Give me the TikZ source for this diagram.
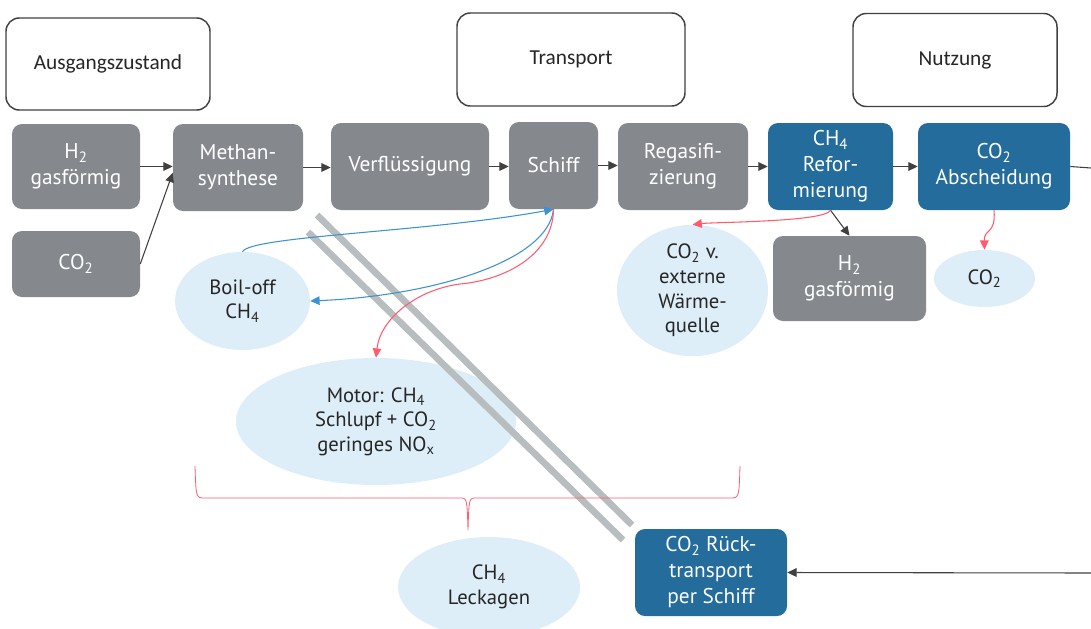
\documentclass[tikz,border=0pt]{standalone}
\usepackage{fontspec}
\setmainfont{PT Sans}
\newfontfamily\headfont{Carlito}
\usetikzlibrary{arrows.meta,shapes.geometric}
\definecolor{boxgray}{RGB}{133,137,142}
\definecolor{boxblue}{RGB}{35,108,155}
\definecolor{bubblefill}{RGB}{222,238,248}
\definecolor{linered}{RGB}{255,92,110}
\definecolor{lineblue}{RGB}{58,147,208}
\definecolor{linedark}{RGB}{64,64,64}
\definecolor{barsgray}{RGB}{184,189,191}
\tikzset{
  stage/.style={draw=linedark, line width=1.1pt, rounded corners=10pt, align=center,
    text=black!85, font=\headfont\fontsize{16}{19}\selectfont},
  grbox/.style={fill=boxgray, rounded corners=7.5pt, align=center, text=white, inner sep=0pt,
    font=\fontsize{16}{19.5}\selectfont},
  blbox/.style={grbox, fill=boxblue},
  bubble/.style={ellipse, fill=bubblefill, align=center, inner sep=0pt, text=black!85,
    font=\fontsize{15.5}{18.5}\selectfont},
  flow/.style={draw=linedark, line width=0.8pt, -{Triangle[width=6.5pt,length=7pt]}},
  redflow/.style={draw=linered, line width=0.8pt, -{Triangle[width=6.5pt,length=7pt]}},
  blueflow/.style={draw=lineblue, line width=0.8pt, -{Triangle[width=6.5pt,length=7pt]}},
  bars/.style={draw=barsgray, line width=5pt},
}
\begin{document}
\begin{tikzpicture}[x=0.75pt, y=-0.75pt]
  \useasboundingbox (0,0) rectangle (1091,628);
  \node[stage, minimum width=153pt, minimum height=69pt] (start) at (108,64) {Ausgangszustand};
  \node[stage, minimum width=171pt, minimum height=69.75pt] (trans) at (571,59.5) {Transport};
  \node[stage, minimum width=153pt, minimum height=69.75pt] (use) at (955,60) {Nutzung};
  \node[grbox, minimum width=96pt, minimum height=63.75pt] (h2a) at (76,166.5) {H\textsubscript{2}\\gasförmig};
  \node[grbox, minimum width=96pt, minimum height=49.5pt] (co2a) at (76,264) {CO\textsubscript{2}};
  \node[grbox, minimum width=97.5pt, minimum height=65.25pt] (meth) at (238,167.5) {Methan-\\synthese};
  \node[grbox, minimum width=118.5pt, minimum height=65.25pt] (verf) at (410,166.5) {Verflüssigung};
  \node[grbox, minimum width=66.75pt, minimum height=65.25pt] (schiff) at (553.5,165.5) {Schiff};
  \node[grbox, minimum width=97.5pt, minimum height=65.25pt] (regas) at (683,166.5) {Regasifi-\\zierung};
  \node[blbox, minimum width=93.75pt, minimum height=65.25pt] (ref) at (830.5,166.5) {CH\textsubscript{4}\\Refor-\\mierung};
  \node[blbox, minimum width=114pt, minimum height=65.25pt] (abs) at (994,166.5) {CO\textsubscript{2}\\Abscheidung};
  \node[grbox, minimum width=114.75pt, minimum height=63.75pt] (h2b) at (849.5,278.5) {H\textsubscript{2}\\gasförmig};
  \node[blbox, minimum width=114pt, minimum height=65.25pt] (back) at (711,572.5) {CO\textsubscript{2} Rück-\\transport\\per Schiff};
  \node[bubble, minimum width=101.25pt, minimum height=73.5pt] (boil) at (242.5,301) {Boil-off\\CH\textsubscript{4}};
  \node[bubble, minimum width=210pt, minimum height=95.25pt] (motor) at (376,421.5) {Motor: CH\textsubscript{4}\\Schlupf + CO\textsubscript{2}\\geringes NO\textsubscript{x}};
  \node[bubble, minimum width=136.5pt, minimum height=75pt] (leak) at (489,587) {CH\textsubscript{4}\\Leckagen};
  \node[bubble, minimum width=113.25pt, minimum height=81.75pt] (co2v) at (692.5,290.5) {CO\textsubscript{2} v.\\externe\\Wärme-\\quelle};
  \node[bubble, minimum width=75.75pt, minimum height=42.75pt] (co2b) at (984.5,278.5) {CO\textsubscript{2}};
  \coordinate (outr) at (1091,168);
  \coordinate (inr) at (1091,573);
  \draw[bars] (317,215) -- (632,525);
  \draw[bars] (308,232) -- (623,540);
  \draw[flow] (h2a.east) -- (h2a.east -| meth.west);
  \draw[flow] (co2a.east) -- ([yshift=-4pt]meth.west);
  \foreach \a/\b in {meth/verf, verf/schiff, schiff/regas, regas/ref, ref/abs}
  \draw[flow] (\a.east) -- (\a.east -| \b.west);
  \draw[draw=linedark, line width=0.8pt] (abs.east) -- (outr);
  \draw[flow] (inr) -- (back.east);
  \draw[flow] (ref.south) -- (h2b.north);
  \draw[redflow] (ref.south) .. controls (825,222) and (715,222) .. (co2v.north);
  \draw[redflow] (abs.south) .. controls (996,235) and (984,228) .. (co2b.north);
  \draw[blueflow] (boil.north) .. controls (250,236) and (430,232) .. (schiff.south);
  \draw[blueflow] (schiff.south) .. controls (548,262) and (430,296) .. (boil.east);
  \draw[redflow] (schiff.south) .. controls (553,255) and (505,280) .. (460,284)
    .. controls (415,290) and (380,320) .. (motor.north);
  \draw[draw=linered, line width=0.6pt] (195,466) .. controls (196,498) .. (205,498) -- (460,498)
    .. controls (467,498) .. (468,530) .. controls (469,498) .. (476,498) -- (730,498)
    .. controls (739,498) .. (740,466);
\end{tikzpicture}
\end{document}
